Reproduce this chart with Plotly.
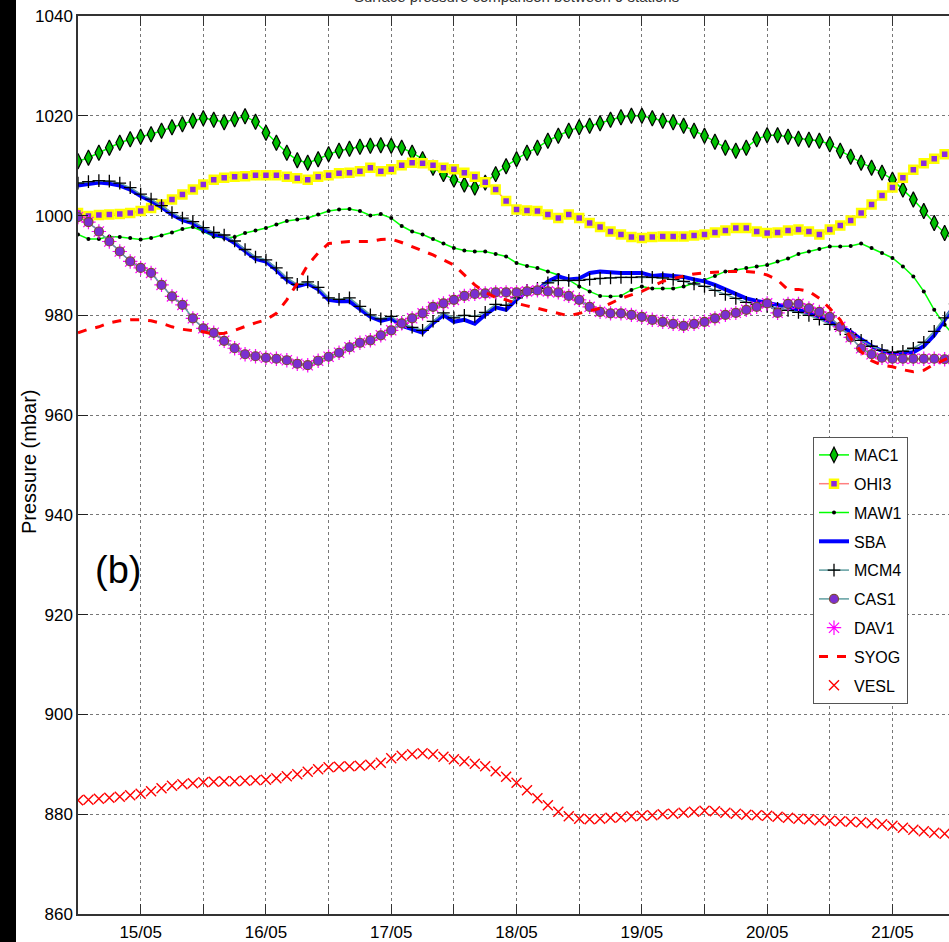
import numpy as np
import plotly.graph_objects as go

# ---- data (2-hourly readings, day-of-May) ----
start_day = 14.5
step_hours = 2

MAC1 = [1010.9, 1011.6, 1012.6, 1013.6, 1014.6, 1015.3, 1015.8,
        1016.3, 1017.0, 1017.7, 1018.3, 1019.0, 1019.5,
        1019.2, 1018.7, 1019.3, 1019.9, 1018.8, 1016.6,
        1014.6, 1012.6, 1011.1, 1010.6, 1011.3, 1012.3,
        1013.0, 1013.4, 1013.8, 1014.0, 1014.1, 1014.0,
        1013.6, 1012.6, 1011.3, 1009.6, 1008.3, 1007.2,
        1006.2, 1005.6, 1006.6, 1008.3, 1009.9, 1011.3,
        1012.6, 1013.6, 1015.0, 1016.0, 1017.0, 1017.7,
        1018.0, 1018.5, 1019.2, 1019.7, 1020.0, 1020.0,
        1019.5, 1019.0, 1018.7, 1018.0, 1017.0, 1016.0,
        1014.8, 1013.6, 1013.0, 1013.6, 1015.3, 1016.1,
        1016.1, 1015.8, 1015.4, 1015.2, 1015.0, 1014.3,
        1013.0, 1011.8, 1010.6, 1009.6, 1008.6, 1007.2,
        1005.2, 1003.2, 1000.9, 998.5, 996.5, 994.8]

OHI3 = [1000.5, 999.9, 1000.1, 1000.2, 1000.3, 1000.5, 1000.9,
        1001.5, 1002.2, 1003.2, 1004.2, 1005.2, 1006.2,
        1007.2, 1007.6, 1007.8, 1007.9, 1008.1, 1008.1,
        1008.1, 1007.8, 1007.5, 1007.2, 1007.8, 1008.1,
        1008.5, 1008.6, 1008.9, 1009.6, 1008.9, 1009.3,
        1010.1, 1010.6, 1010.5, 1010.1, 1009.6, 1009.3,
        1008.6, 1007.8, 1006.7, 1005.2, 1002.9, 1001.2,
        1001.0, 1000.9, 1000.2, 999.5, 1000.2, 999.5,
        998.5, 997.7, 996.8, 996.2, 995.7, 995.5,
        995.7, 995.8, 995.8, 995.8, 996.0, 996.2,
        996.6, 997.0, 997.5, 997.5, 996.8, 996.5,
        996.6, 997.0, 997.2, 996.8, 996.2, 997.2,
        998.0, 999.0, 1000.5, 1002.2, 1004.0, 1005.6,
        1007.6, 1009.2, 1010.5, 1011.4, 1012.3, 1013.0]

MAW1 = [996.2, 995.3, 995.3, 995.8, 995.7, 995.5, 995.2,
        995.5, 996.0, 996.6, 997.3, 997.7, 996.8,
        995.8, 995.5, 995.7, 996.5, 997.0, 997.5,
        998.2, 998.9, 999.2, 999.5, 1000.2, 1000.9,
        1001.2, 1001.3, 1000.9, 1000.0, 1000.3, 999.5,
        997.9, 996.8, 996.2, 995.3, 994.4, 993.5,
        993.0, 992.8, 992.8, 992.3, 991.8, 990.5,
        989.9, 989.5, 988.8, 988.1, 987.1, 985.8,
        984.8, 983.9, 983.8, 983.9, 985.1, 985.8,
        985.4, 985.4, 985.4, 985.8, 986.4, 987.1,
        987.9, 988.8, 989.1, 989.5, 989.8, 990.1,
        990.8, 991.4, 992.3, 992.8, 993.3, 993.8,
        993.8, 993.9, 994.4, 993.5, 992.5, 991.5,
        989.8, 987.8, 984.8, 981.1, 978.1, 975.7]

SBA = [1006.0, 1006.4, 1006.6, 1006.4, 1006.0, 1005.2, 1003.9,
       1002.9, 1001.7, 1000.2, 999.1, 998.5, 997.2,
       996.2, 995.8, 994.5, 992.8, 991.3, 990.8,
       989.1, 987.1, 985.8, 986.4, 985.2, 983.1,
       982.8, 982.8, 981.3, 979.7, 978.9, 979.4,
       977.9, 977.1, 976.5, 978.4, 980.1, 978.7,
       979.1, 978.3, 980.1, 981.6, 981.1, 983.2,
       984.8, 985.0, 986.8, 987.8, 987.2, 987.4,
       988.5, 988.8, 988.6, 988.5, 988.5, 988.5,
       987.9, 988.1, 987.9, 987.7, 987.2, 986.8,
       986.1, 985.2, 984.3, 983.4, 982.9, 982.4,
       982.1, 981.7, 981.2, 980.5, 979.7, 978.7,
       977.7, 976.7, 975.2, 973.8, 972.9, 972.3,
       972.3, 972.6, 973.8, 976.0, 979.1, 982.1]

MCM4 = [1006.5, 1006.8, 1007.0, 1006.9, 1006.5, 1005.6, 1004.3,
        1003.3, 1002.0, 1000.6, 999.5, 998.8, 997.6,
        996.6, 996.1, 994.9, 993.2, 991.7, 991.1,
        989.5, 987.5, 986.2, 986.7, 985.6, 983.5,
        983.2, 983.5, 981.8, 980.1, 979.3, 979.8,
        978.3, 977.6, 977.0, 978.8, 980.5, 979.5,
        980.0, 979.8, 980.6, 982.2, 982.0, 983.5,
        985.0, 985.4, 986.5, 987.0, 987.0, 987.0,
        987.2, 987.4, 987.5, 987.6, 987.6, 987.7,
        987.6, 987.5, 987.2, 986.8, 986.3, 985.8,
        985.0, 984.2, 983.4, 982.6, 982.2, 981.8,
        981.4, 981.0, 980.6, 980.0, 979.2, 978.2,
        977.2, 976.2, 975.0, 973.8, 973.0, 972.6,
        972.8, 973.4, 974.6, 976.8, 979.5, 982.3]

CAS1 = [999.7, 998.7, 996.8, 994.8, 992.8, 990.8, 989.5,
        988.5, 986.1, 983.8, 982.1, 979.4, 977.4,
        976.5, 974.9, 973.4, 972.2, 971.8, 971.5,
        971.3, 971.0, 970.3, 970.0, 970.9, 971.7,
        972.5, 973.6, 974.5, 975.0, 976.0, 977.0,
        978.4, 979.4, 980.4, 981.7, 982.4, 983.1,
        983.9, 984.3, 984.4, 984.6, 984.6, 984.6,
        984.8, 985.0, 984.8, 984.6, 983.9, 983.1,
        981.7, 980.7, 980.4, 980.4, 980.1, 979.7,
        979.1, 978.7, 978.3, 977.9, 978.3, 978.7,
        979.4, 980.1, 980.5, 981.1, 981.7, 982.4,
        980.5, 982.3, 982.3, 981.4, 980.7, 979.7,
        977.7, 975.6, 973.4, 972.2, 971.5, 971.3,
        971.3, 971.3, 971.3, 971.3, 971.2, 971.2]

DAV1 = [999.7, 998.7, 996.8, 994.8, 992.8, 990.8, 989.5,
        988.5, 986.1, 983.8, 982.1, 979.4, 977.4,
        976.5, 974.9, 973.4, 972.2, 971.8, 971.5,
        971.3, 971.0, 970.3, 970.0, 970.9, 971.7,
        972.5, 973.6, 974.5, 975.0, 976.0, 977.0,
        978.4, 979.4, 980.4, 981.7, 982.4, 983.1,
        983.9, 984.3, 984.4, 984.6, 984.6, 984.6,
        984.8, 985.0, 984.8, 984.6, 983.9, 983.1,
        981.7, 980.7, 980.4, 980.4, 980.1, 979.7,
        979.1, 978.7, 978.3, 977.9, 978.3, 978.7,
        979.4, 980.1, 980.5, 981.1, 981.7, 982.4,
        980.5, 982.3, 982.3, 981.4, 980.7, 979.7,
        977.7, 975.6, 973.4, 972.2, 971.5, 971.3,
        971.3, 971.3, 971.3, 971.3, 971.2, 971.2]

SYOG = [976.5, 977.2, 977.7, 978.5, 978.9, 979.1, 979.1,
        978.9, 978.4, 977.7, 977.2, 977.0, 976.7,
        976.2, 976.4, 977.0, 977.8, 978.5, 979.1,
        980.4, 983.1, 986.4, 990.1, 992.5, 994.4,
        994.6, 994.8, 994.8, 994.8, 995.2, 995.3,
        994.6, 993.8, 993.0, 992.1, 991.1, 990.1,
        988.1, 986.1, 984.6, 983.6, 983.1, 982.4,
        981.9, 981.4, 980.9, 980.3, 979.9, 980.4,
        980.9, 981.4, 982.4, 983.4, 984.1, 984.8,
        985.8, 986.8, 987.4, 987.9, 988.3, 988.5,
        988.7, 988.8, 988.8, 988.8, 988.6, 988.1,
        987.1, 985.1, 985.2, 984.8, 983.4, 981.4,
        979.1, 975.4, 972.7, 970.9, 970.0, 969.7,
        969.1, 968.7, 969.0, 970.2, 971.1, 972.0]

VESL = [882.8, 882.9, 883.1, 883.3, 883.5, 883.8, 884.1,
        884.6, 885.2, 885.7, 886.0, 886.2, 886.4,
        886.5, 886.6, 886.6, 886.7, 886.8, 886.9,
        887.2, 887.6, 888.0, 888.5, 889.0, 889.4,
        889.5, 889.6, 889.7, 889.9, 890.3, 891.2,
        891.7, 892.0, 892.2, 892.0, 891.5, 891.0,
        890.6, 890.1, 889.6, 888.6, 887.5, 886.3,
        884.8, 883.2, 881.8, 880.5, 879.6, 879.1,
        879.0, 879.1, 879.3, 879.4, 879.6, 879.7,
        879.8, 880.0, 880.1, 880.3, 880.5, 880.7,
        880.6, 880.3, 880.1, 879.9, 879.8, 879.7,
        879.5, 879.3, 879.1, 879.0, 878.8, 878.7,
        878.6, 878.5, 878.4, 878.2, 878.0, 877.7,
        877.3, 876.9, 876.6, 876.3, 876.1, 875.9]

day_ticks = [14.5, 15.0, 15.5, 16.0, 16.5, 17.0, 17.5, 18.0, 18.5,
             19.0, 19.5, 20.0, 20.5, 21.0, 21.5]
day_labels = ["", "15/05", "", "16/05", "", "17/05", "", "18/05", "",
              "19/05", "", "20/05", "", "21/05", ""]
p_ticks = [860, 880, 900, 920, 940, 960, 980, 1000, 1020, 1040]

n = len(MAC1)
t = start_day + np.arange(n) * step_hours / 24.0

FONT = "Liberation Sans, Arial, sans-serif"

fig = go.Figure()

def add(name, y, rank, mode, line=None, marker=None):
    fig.add_trace(go.Scatter(
        x=t, y=y, name=name, mode=mode, legendrank=rank, legendgroup=name,
        line=line or {}, marker=marker or {}, showlegend=True))

add("MAC1", MAC1, 1, "lines+markers",
    line=dict(color="#00ff00", width=1.5),
    marker=dict(symbol="diamond-tall", size=11, color="#00c000",
                line=dict(color="black", width=1.2)))
add("OHI3", OHI3, 2, "lines+markers",
    line=dict(color="#ff8080", width=1.5),
    marker=dict(symbol="square", size=8, color="#8a2be2",
                line=dict(color="#ffff00", width=2.5)))
add("MAW1", MAW1, 3, "lines+markers",
    line=dict(color="#00ff00", width=1.5),
    marker=dict(symbol="circle", size=4, color="black"))
add("SBA", SBA, 4, "lines",
    line=dict(color="#0000ff", width=4))
add("MCM4", MCM4, 5, "lines+markers",
    line=dict(color="#5f9ea0", width=1.5),
    marker=dict(symbol="cross-thin", size=9, color="black",
                line=dict(color="black", width=1.3)))
add("DAV1", DAV1, 7, "markers",
    marker=dict(symbol="asterisk", size=12, color="#ff00ff",
                line=dict(color="#ff00ff", width=1.2)))
add("CAS1", CAS1, 6, "lines+markers",
    line=dict(color="#5f9ea0", width=1.5),
    marker=dict(symbol="circle", size=9, color="#7b2fd0",
                line=dict(color="#7a4a3a", width=1.2)))
add("SYOG", SYOG, 8, "lines",
    line=dict(color="#ff0000", width=3, dash="dash"))
add("VESL", VESL, 9, "markers",
    marker=dict(symbol="x-thin", size=10, color="#ff0000",
                line=dict(color="#ff0000", width=1.4)))

fig.update_layout(
    width=949, height=942,
    margin=dict(l=78, r=0, t=16, b=28, autoexpand=False),
    paper_bgcolor="white", plot_bgcolor="white",
    font=dict(family=FONT, size=17, color="black"),
    showlegend=True,
    legend=dict(x=(813 - 78) / 871, y=(914 - 437) / 898,
                xanchor="left", yanchor="top",
                bgcolor="white", bordercolor="#555", borderwidth=1,
                font=dict(family=FONT, size=16), traceorder="grouped",
                tracegroupgap=5, itemwidth=30),
    xaxis=dict(range=[14.5, 14.5 + 871 / 125.3], tickmode="array",
               tickvals=day_ticks, ticktext=day_labels, automargin=False,
               ticks="inside", ticklen=10, tickcolor="#333",
               showline=True, linecolor="#333", linewidth=1.5, mirror="ticks",
               showgrid=True, gridcolor="#777", griddash="dot", gridwidth=1,
               zeroline=False, ticklabelstandoff=2,
               tickfont=dict(family=FONT, size=17)),
    yaxis=dict(range=[860, 1040], tickmode="array", tickvals=p_ticks,
               automargin=False,
               ticks="inside", ticklen=10, tickcolor="#222",
               showline=True, linecolor="#333", linewidth=1.5,
               showgrid=True, gridcolor="#777", griddash="dot", gridwidth=1,
               zeroline=False, tickfont=dict(family=FONT, size=17)),
)

# black strip at the left edge of the screenshot
fig.add_shape(type="rect", xref="paper", yref="paper",
              x0=-78 / 871, x1=(16 - 78) / 871, y0=-0.1, y1=1.1,
              fillcolor="black", line=dict(width=0), layer="above")

fig.add_annotation(text="Pressure (mbar)", xref="paper", yref="paper",
                   x=(29 - 78) / 871, y=(914 - 462) / 898, textangle=-90,
                   xanchor="center", yanchor="middle",
                   showarrow=False, font=dict(family=FONT, size=20))
fig.add_annotation(text="(b)", xref="paper", yref="paper",
                   x=(118 - 78) / 871, y=(914 - 570) / 898,
                   xanchor="center", yanchor="middle",
                   showarrow=False, font=dict(family=FONT, size=38))
fig.add_annotation(text="Surface pressure comparison between 9 stations",
                   xref="paper", yref="paper",
                   x=(516 - 78) / 871, y=(914 - 7) / 898,
                   xanchor="center", yanchor="bottom",
                   showarrow=False, font=dict(family=FONT, size=15, color="#333"))

fig.write_html("out.html",
               config={"displayModeBar": False},
               post_script="document.body.style.margin='0';"
                           "document.body.style.overflow='hidden';")
